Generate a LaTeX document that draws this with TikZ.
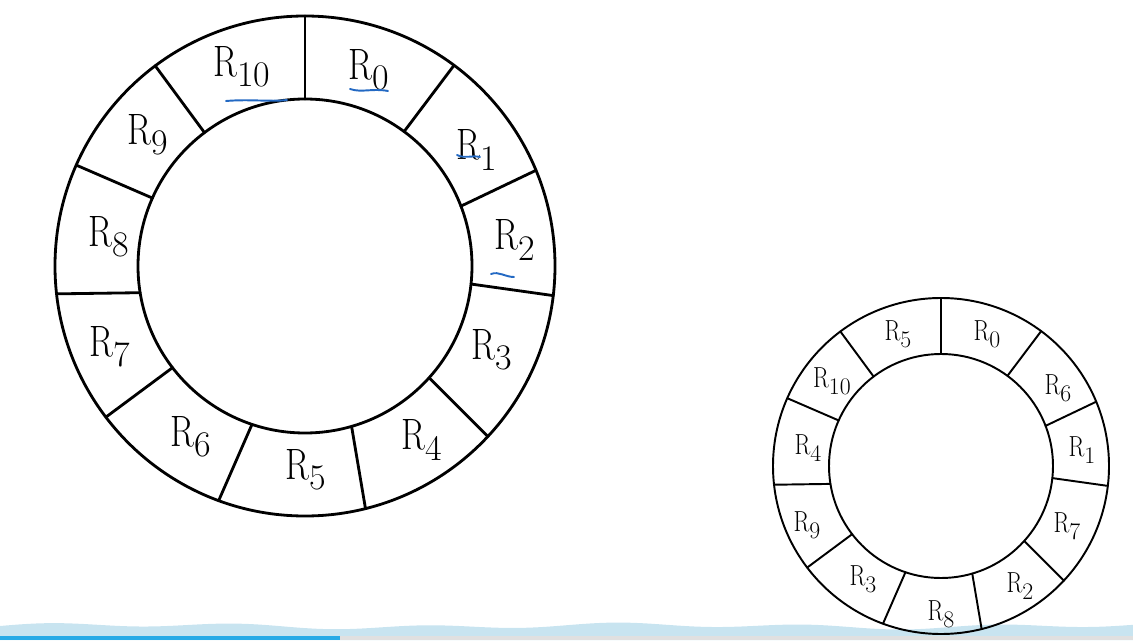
\documentclass[tikz,border=0pt]{standalone}
\definecolor{penblue}{RGB}{35,105,195}
\definecolor{bandblue}{RGB}{200,228,240}
\definecolor{barblue}{RGB}{40,170,230}
\newcommand{\reg}[1]{\scalebox{0.8}[1]{R}\raisebox{-0.24em}{\scalebox{0.82}{#1}}}

\begin{document}
\begin{tikzpicture}[line cap=round,line join=round,x=0.02cm,y=0.02cm]
\tikzset{
  ring/.style={line width=1.6pt},
  smallring/.style={line width=1.1pt},
  lbl/.style={font=\fontsize{25}{28}\selectfont,inner sep=0pt},
  slbl/.style={font=\fontsize{16.5}{19}\selectfont,inner sep=0pt},
  pen/.style={penblue,line width=1.1pt}
}
% inner/outer angle of each cut
\def\cuts{90/90,53.6/53.4,21/22.5,-6.2/-6.8,-42/-43,-73.8/-76,-108.5/-110.2,
  -142.5/-142.8,-170.8/-173.6,156/156.2,127/126.8}
\useasboundingbox (0,0) rectangle (1133,640);

% band at the bottom
\fill[bandblue] (0,0) -- plot[domain=0:1133,samples=120,smooth]
  (\x,{14+2*sin(\x*1.9)+1.5*sin(\x*0.7)}) -- (1133,0) -- cycle;
\fill[barblue] (0,0) rectangle (340,4);
\fill[black!12] (340,0) rectangle (1133,4);

% big ring
\begin{scope}[shift={(305,374)}]
\draw[ring] (0,0) circle[radius=250];
\draw[ring] (0,0) circle[radius=167];
\foreach \i/\o in \cuts
  \draw[ring] (\i:167) -- (\o:250);
\end{scope}
\foreach \n/\p in {0/{369,570},1/{477,490},2/{515,400},3/{492,290},
    4/{422,200},5/{306,170},6/{191,203},7/{110,293},8/{109,403},
    9/{148,505},10/{242,573}}
  \node[lbl] (r\n) at (\p) {\reg{\n}};

% small ring
\begin{scope}[shift={(941,174)}]
\draw[smallring] (0,0) circle[radius=168];
\draw[smallring] (0,0) circle[radius=112];
\foreach \i/\o in \cuts
  \draw[smallring] (\i:112) -- (\o:168);
\end{scope}
\foreach \n/\p in {0/{987,306},6/{1058,252},1/{1082,190},7/{1067,114},
    2/{1020,54},8/{941,26},3/{863,61},9/{807,115},4/{808,192},
    10/{832,259},5/{898,306}}
  \node[slbl] (s\n) at (\p) {\reg{\n}};

% pen marks
\draw[pen] (226,539) .. controls (250,541) and (270,538) .. (287,540);
\draw[pen] (350,551) .. controls (362,547) and (372,552) .. (388,549);
\draw[pen] (457,485) .. controls (465,481) and (472,485) .. (480,483);
\draw[pen] (491,366) .. controls (499,369) and (505,363) .. (514,363);
\end{tikzpicture}
\end{document}
